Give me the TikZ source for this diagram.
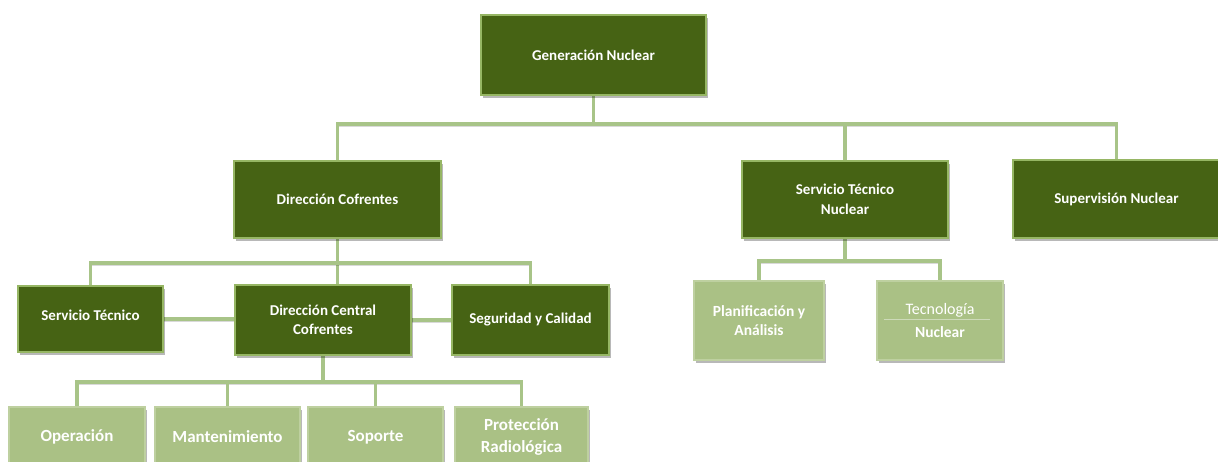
\documentclass[tikz,border=0pt]{standalone}
\usepackage{fontspec}
\setmainfont{Carlito}
\usetikzlibrary{shadows,backgrounds}
\definecolor{darkbox}{RGB}{70,99,20}
\definecolor{darkedge}{RGB}{150,182,100}
\definecolor{lightbox}{RGB}{170,193,133}
\definecolor{lightedge}{RGB}{190,208,160}
\definecolor{connc}{RGB}{168,196,136}
\definecolor{tecrulec}{RGB}{205,218,185}
\tikzset{
  boxshadow/.style={drop shadow={shadow xshift=1.5pt, shadow yshift=-3pt, fill=black, opacity=0.28}},
  darknode/.style={rectangle, fill=darkbox, draw=darkedge, line width=1.6pt, text=white,
    align=center, inner sep=0pt, boxshadow, font=\bfseries\fontsize{15}{19.5}\selectfont},
  lightnode/.style={rectangle, fill=lightbox, draw=lightedge, line width=1.2pt, text=white,
    align=center, inner sep=0pt, boxshadow, font=\bfseries\fontsize{17}{22}\selectfont},
  conn/.style={draw=connc, line width=3.6pt, line join=miter,
    preaction={draw=black, opacity=0.15, line width=3.6pt, transform canvas={yshift=-1.5pt}}},
  tecrule/.style={draw=tecrulec, line width=0.8pt}
}
\begin{document}
\begin{tikzpicture}[x=1pt, y=-1pt]
\useasboundingbox (0,0) rectangle (1218,462);
% level 0
\node[darknode, minimum width=225pt, minimum height=80pt] (gn) at (593.5,55) {Generación Nuclear};
% level 1
\node[darknode, minimum width=207pt, minimum height=77pt] (dc) at (337.5,199.5) {Dirección Cofrentes};
\node[darknode, minimum width=206pt, minimum height=77pt] (stn) at (845,199.5) {Servicio Técnico\\Nuclear};
\node[darknode, minimum width=207pt, minimum height=78pt] (sn) at (1116.5,199) {Supervisión Nuclear};
% level 2
\node[darknode, minimum width=145pt, minimum height=66pt] (st) at (90.5,319) {\raisebox{7pt}{Servicio Técnico}};
\node[darknode, minimum width=176pt, minimum height=70pt] (dcc) at (323,320) {Dirección Central\\Cofrentes};
\node[darknode, minimum width=157pt, minimum height=70pt] (syc) at (530.5,320) {Seguridad y Calidad};
\node[lightnode, minimum width=130pt, minimum height=79pt, font=\bfseries\fontsize{15.5}{19}\selectfont] (plan) at (759,320.5) {Planificación y\\Análisis};
\node[lightnode, minimum width=126pt, minimum height=79pt] (tec) at (940,320.5)
  {{\mdseries\fontsize{16}{20}\selectfont Tecnología}\\[1pt]{\fontsize{15.5}{20}\selectfont Nuclear}};
\draw[tecrule] ([xshift=-56pt, yshift=1.5pt]tec.center) -- ([xshift=50pt, yshift=1.5pt]tec.center);
% level 3
\node[lightnode, minimum width=136pt, minimum height=60pt] (op) at (77,437) {Operación};
\node[lightnode, minimum width=145pt, minimum height=60pt] (mant) at (227.5,437) {Mantenimiento};
\node[lightnode, minimum width=135pt, minimum height=60pt] (sop) at (375.5,437) {Soporte};
\node[lightnode, minimum width=133pt, minimum height=60pt] (prot) at (521.5,437) {Protección\\Radiológica};
% bus coordinates
\coordinate (bus1) at (0,124);
\coordinate (bus2) at (0,263);
\coordinate (bus3) at (0,382);
\coordinate (bus4) at (0,261);
\begin{scope}[on background layer]
  % top bus
  \draw[conn] (gn.south) -- (gn.south |- bus1);
  \draw[conn] (dc.north) |- (sn.north |- bus1) -- (sn.north);
  \draw[conn] (stn.north) -- (stn.north |- bus1);
  % Direccion Cofrentes bus
  \draw[conn] (dc.south) -- (dc.south |- dcc.north);
  \draw[conn] (st.north) |- (syc.north |- bus2) -- (syc.north);
  \draw[conn] (st.east) -- (st.east -| dcc.west);
  \draw[conn] (dcc.east) -- (dcc.east -| syc.west);
  % Direccion Central bus
  \draw[conn] (dcc.south) -- (dcc.south |- bus3);
  \draw[conn] (op.north) |- (prot.north |- bus3) -- (prot.north);
  \draw[conn] (mant.north) -- (mant.north |- bus3);
  \draw[conn] (sop.north) -- (sop.north |- bus3);
  % Servicio Tecnico Nuclear bus
  \draw[conn] (stn.south) -- (stn.south |- bus4);
  \draw[conn] (plan.north) |- (tec.north |- bus4) -- (tec.north);
\end{scope}
\end{tikzpicture}
\end{document}
